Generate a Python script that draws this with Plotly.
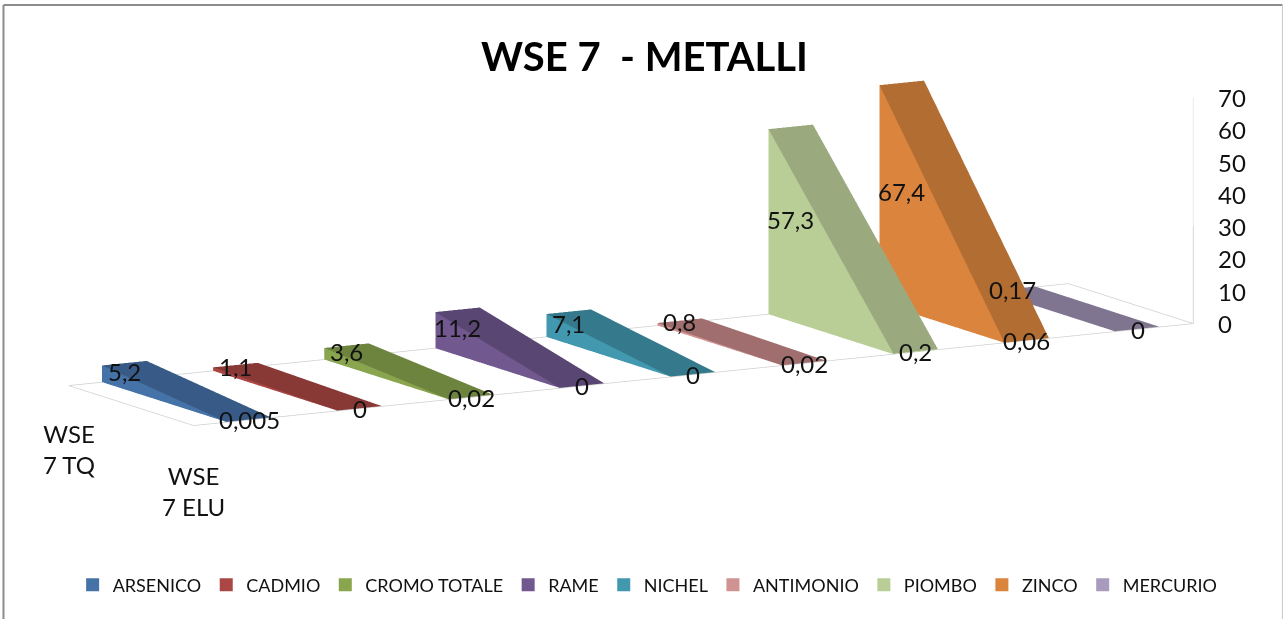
import math
import plotly.graph_objects as go

title = "WSE 7  - METALLI"
categories = ["WSE<br>7 TQ", "WSE<br>7 ELU"]
metals = ["ARSENICO", "CADMIO", "CROMO TOTALE", "RAME", "NICHEL", "ANTIMONIO", "PIOMBO", "ZINCO", "MERCURIO"]
values_tq = [5.2, 1.1, 3.6, 11.2, 7.1, 0.8, 57.3, 67.4, 0.17]
values_elu = [0.005, 0, 0.02, 0, 0, 0.02, 0.2, 0.06, 0]
labels_tq = ["5,2", "1,1", "3,6", "11,2", "7,1", "0,8", "57,3", "67,4", "0,17"]
labels_elu = ["0,005", "0", "0,02", "0", "0", "0,02", "0,2", "0,06", "0"]
light = ["#4572A7", "#AA4643", "#89A54E", "#71588F", "#4198AF", "#D19392", "#B9CD96", "#DB843D", "#A99BBD"]
dark = ["#375B86", "#883835", "#6D843E", "#5A4672", "#347A8C", "#A06E6E", "#9BAA7E", "#B16D32", "#807590"]
z_ticks = [0, 10, 20, 30, 40, 50, 60, 70]

Y_TQ, Y_ELU = 1, 0
GAP = 0.3
FONT = "Lato"
TXT = "#111111"

fig = go.Figure()
for i, m in enumerate(metals):
    xl, xr = i + GAP, i + 1 - GAP
    a, b = values_tq[i], values_elu[i]
    vx = [xl, xl, xl, xl, xr, xr, xr]
    vy = [Y_TQ, Y_TQ, Y_ELU, Y_ELU, Y_TQ, Y_ELU, Y_ELU]
    vz = [0, a, b, 0, a, b, 0]
    fi = [0, 0, 1, 1, 3, 3]
    fj = [1, 2, 4, 5, 2, 5]
    fk = [2, 3, 5, 2, 5, 6]
    fc = [light[i], light[i], dark[i], dark[i], light[i], light[i]]
    fig.add_trace(go.Mesh3d(x=vx, y=vy, z=vz, i=fi, j=fj, k=fk, facecolor=fc, flatshading=True,
                            lighting=dict(ambient=1, diffuse=0, specular=0, fresnel=0, roughness=1),
                            name=m, showlegend=False, hoverinfo="skip"))
    fig.add_trace(go.Scatter3d(x=[None], y=[None], z=[None], mode="markers", name=m, showlegend=True,
                               marker=dict(symbol="square", size=13, color=light[i]), hoverinfo="skip"))

fig.add_trace(go.Scatter3d(x=[0, 9, 9, 0, 0], y=[Y_ELU, Y_ELU, Y_TQ, Y_TQ, Y_ELU], z=[0]*5, mode="lines",
                           line=dict(color="#cfcfcf", width=1.5), showlegend=False, hoverinfo="skip"))
fig.add_trace(go.Scatter3d(x=[9, 9], y=[Y_ELU, Y_ELU], z=[z_ticks[3], z_ticks[-1]], mode="lines",
                           line=dict(color="#e2e2e2", width=1.5), showlegend=False, hoverinfo="skip"))
fig.add_trace(go.Scatter3d(x=[9, 9], y=[Y_ELU, Y_ELU], z=[z_ticks[0], z_ticks[3]], mode="lines",
                           line=dict(color="#c8c8c8", width=1.5), showlegend=False, hoverinfo="skip"))

ann = []
def lab(x, y, z, t, **kw):
    d = dict(x=x, y=y, z=z, text=t, showarrow=False, font=dict(family=FONT, size=24, color=TXT))
    d.update(kw)
    ann.append(d)

for i in range(len(metals)):
    lab(i + 0.5, Y_TQ, values_tq[i] / 2, labels_tq[i])
    lab(i + 0.5, Y_ELU, values_elu[i] / 2, labels_elu[i])
for t in z_ticks:
    lab(9, Y_ELU, t, str(t), xanchor="left", xshift=23)
lab(0, Y_TQ, 0, categories[0], yshift=-63)
lab(0, Y_ELU, 0, categories[1], yshift=-65)

# camera
alpha = math.atan(0.5646)
phi = math.asin(0.1807)
d = 2.0
S = 309.5
h = (-math.sin(alpha) * math.cos(phi), -math.cos(alpha) * math.cos(phi), math.sin(phi))
r = (math.cos(alpha), -math.sin(alpha), 0)
u = (math.sin(alpha) * math.sin(phi), math.cos(alpha) * math.sin(phi), math.cos(phi))
SHIFT_X, SHIFT_UP = -11.5, 68.0
c = [-(r[k] * SHIFT_X + u[k] * SHIFT_UP) / S for k in range(3)]
axis_off = dict(visible=False, showbackground=False, showgrid=False, zeroline=False, showspikes=False)

fig.update_layout(
    width=1285, height=619,
    margin=dict(l=0, r=0, t=0, b=0),
    paper_bgcolor="white",
    title=dict(text=title, x=0.5015, xanchor="center", y=0.908, yanchor="middle",
               font=dict(family=FONT, size=40, color="#000000", weight="bold")),
    scene=dict(
        domain=dict(x=[0, 1], y=[0, 1]),
        xaxis=dict(range=[0, 9], **axis_off),
        yaxis=dict(range=[0, 1], **axis_off),
        zaxis=dict(range=[0, 70], **axis_off),
        aspectmode="manual",
        aspectratio=dict(x=3.709, y=0.8207, z=0.743),
        camera=dict(projection=dict(type="orthographic"), up=dict(x=0, y=0, z=1),
                    center=dict(x=c[0], y=c[1], z=c[2]),
                    eye=dict(x=c[0] + h[0] * d, y=c[1] + h[1] * d, z=c[2] + h[2] * d)),
        annotations=ann,
    ),
    legend=dict(orientation="h", x=0.504, xanchor="center", y=0.055, yanchor="middle",
                font=dict(family=FONT, size=18, color=TXT), bgcolor="rgba(0,0,0,0)"),
    shapes=[
        dict(type="line", xref="paper", yref="paper", x0=0.0027, x1=0.0027, y0=0, y1=0.992, line=dict(color="#8c8c8c", width=2)),
        dict(type="line", xref="paper", yref="paper", x0=0.0027, x1=0.998, y0=0.992, y1=0.992, line=dict(color="#8c8c8c", width=2)),
        dict(type="line", xref="paper", yref="paper", x0=0.998, x1=0.998, y0=0, y1=0.992, line=dict(color="#c8c8c8", width=1)),
    ],
)
fig.write_html("out.html", config=dict(displayModeBar=False),
               post_script="document.body.style.margin='0';document.documentElement.style.overflow='hidden';")
